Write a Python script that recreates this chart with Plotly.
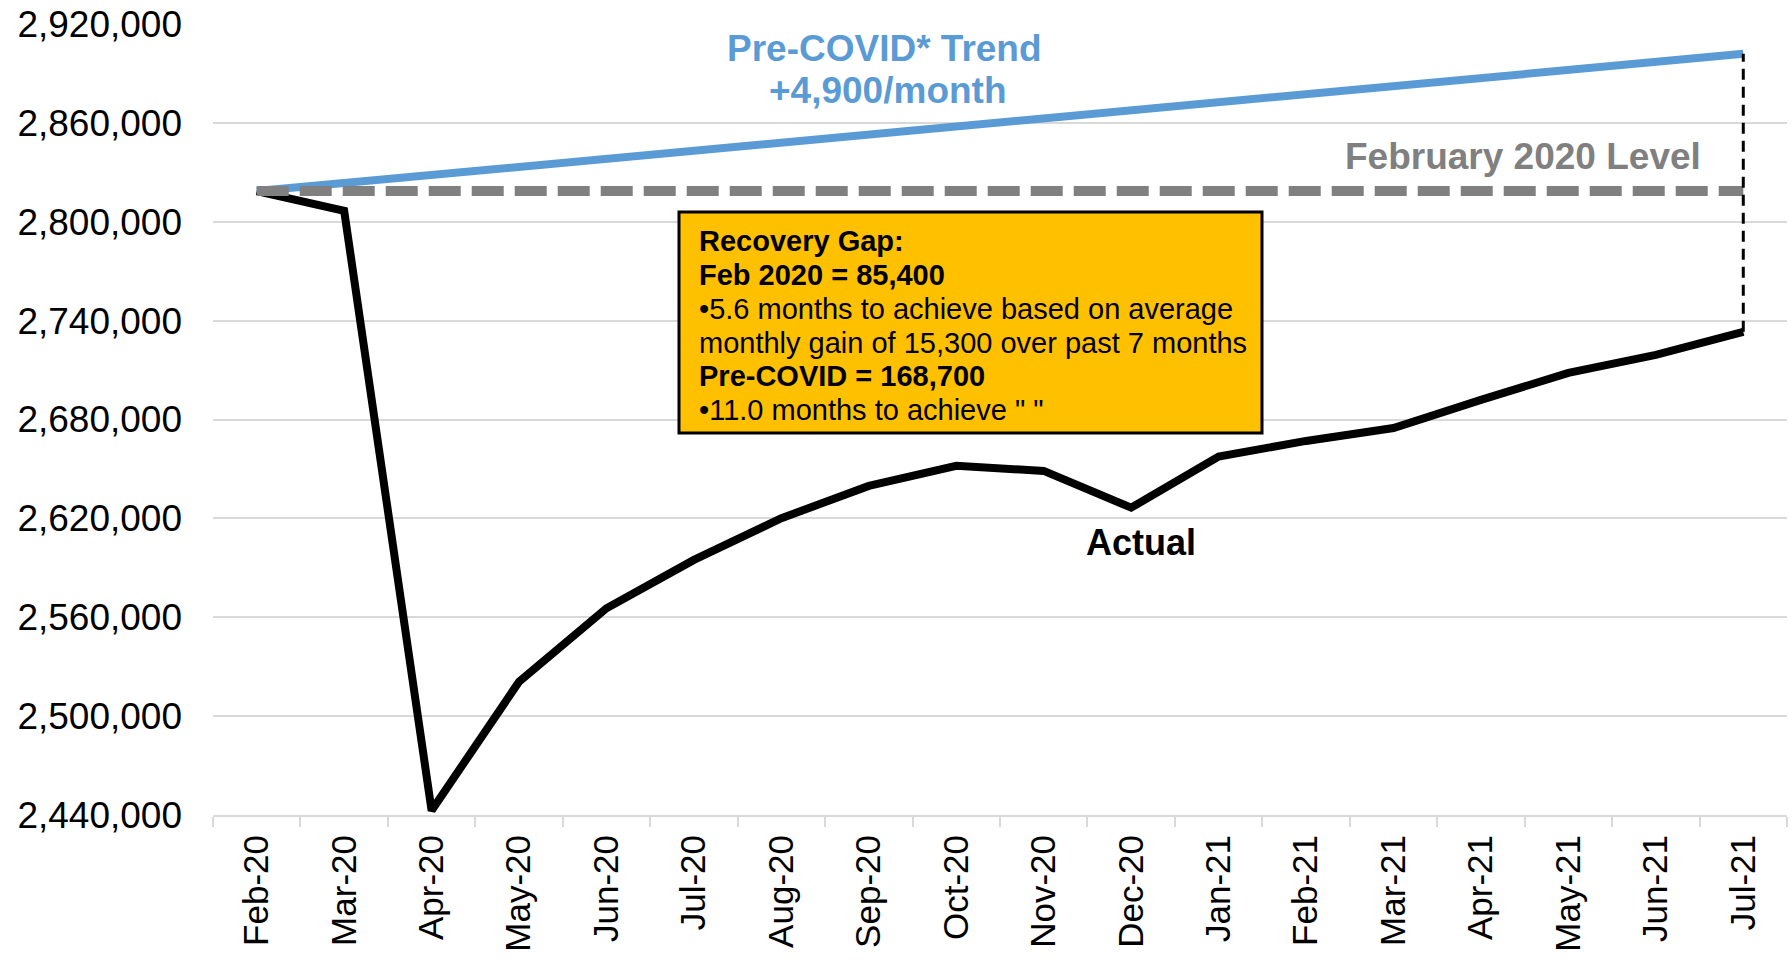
import plotly.graph_objects as go

months = ["Feb-20", "Mar-20", "Apr-20", "May-20", "Jun-20", "Jul-20", "Aug-20", "Sep-20",
          "Oct-20", "Nov-20", "Dec-20", "Jan-21", "Feb-21", "Mar-21", "Apr-21", "May-21",
          "Jun-21", "Jul-21"]
actual = [2818600, 2806600, 2442700, 2520900, 2565500, 2594800, 2620100, 2639700,
          2651900, 2648800, 2626500, 2657500, 2667000, 2674800, 2691900, 2708300,
          2719200, 2733200]
trend = [2818600, 2823500, 2828400, 2833300, 2838200, 2843100, 2848000, 2852900,
         2857800, 2862700, 2867600, 2872500, 2877400, 2882300, 2887200, 2892100,
         2897000, 2901900]
feb_level = [2818600] * 18
y_ticks = [2440000, 2500000, 2560000, 2620000, 2680000, 2740000, 2800000, 2860000, 2920000]

W, H = 1792, 960
L, R, T, B = 213, 5, 24, 145
PW, PH = W - L - R, H - T - B
FONT = "Liberation Sans, Arial, sans-serif"


def px(x):
    return (x - L) / PW


def py(y):
    return (T + PH - y) / PH


fig = go.Figure()
fig.add_trace(go.Scatter(x=months, y=trend, mode="lines",
                         line=dict(color="#5b9bd5", width=8), hoverinfo="skip"))
fig.add_trace(go.Scatter(x=months, y=actual, mode="lines",
                         line=dict(color="#000000", width=8), hoverinfo="skip"))
fig.add_trace(go.Scatter(x=months, y=feb_level, mode="lines",
                         line=dict(color="#808080", width=10, dash="32px,11px"), hoverinfo="skip"))
fig.add_trace(go.Scatter(x=[months[-1], months[-1]], y=[actual[-1], trend[-1]], mode="lines",
                         line=dict(color="#000000", width=3, dash="11px,7px"), hoverinfo="skip"))

annotations = [
    dict(text="<b>Pre-COVID* Trend</b>", x=px(884), y=py(48.5), font=dict(size=37, color="#5b9bd5")),
    dict(text="<b>+4,900/month</b>", x=px(888), y=py(90.5), font=dict(size=37, color="#5b9bd5")),
    dict(text="<b>February 2020 Level</b>", x=px(1523), y=py(156.7), font=dict(size=37, color="#808080")),
    dict(text="<b>Actual</b>", x=px(1140.5), y=py(542.5), font=dict(size=36, color="#000000")),
]
for a in annotations:
    a.update(xref="paper", yref="paper", xanchor="center", yanchor="middle", showarrow=False)
    a["font"]["family"] = FONT

box_lines = [
    ("<b>Recovery Gap:</b>", 241.1),
    ("<b>Feb 2020 = 85,400</b>", 275.4),
    ("•5.6 months to achieve based on average", 308.6),
    ("monthly gain of 15,300 over past 7 months", 342.9),
    ("<b>Pre-COVID = 168,700</b>", 376.0),
    ("•11.0 months to achieve \" \"", 410.3),
]
for txt, yy in box_lines:
    annotations.append(dict(text=txt, x=px(697), y=py(yy), xref="paper", yref="paper",
                            xanchor="left", yanchor="middle", showarrow=False,
                            font=dict(size=29, color="#000000", family=FONT)))

fig.update_layout(
    width=W, height=H,
    margin=dict(l=L, r=R, t=T, b=B),
    paper_bgcolor="white", plot_bgcolor="white",
    showlegend=False,
    font=dict(family=FONT, color="#000000"),
    annotations=annotations,
    shapes=[dict(type="rect", xref="paper", yref="paper",
                 x0=px(679), x1=px(1262), y0=py(433), y1=py(212),
                 fillcolor="#ffc000", line=dict(color="#000000", width=3), layer="above")],
)
fig.update_xaxes(
    type="category", range=[-0.5, 17.5], tickangle=-90, tickson="boundaries",
    ticks="outside", ticklen=10, tickwidth=2, tickcolor="#d9d9d9",
    showline=True, linecolor="#d9d9d9", linewidth=2, showgrid=False, automargin=False,
    tickfont=dict(size=35, color="#000000", family=FONT), ticklabelstandoff=4,
)
fig.update_yaxes(
    range=[2440000, 2920000], tickvals=y_ticks, tickformat=",d", automargin=False,
    showgrid=True, gridcolor="#d9d9d9", gridwidth=2, zeroline=False, showline=False,
    ticks="", tickfont=dict(size=37, color="#000000", family=FONT), ticklabelstandoff=30,
)

fig.write_html("out.html", config={"displayModeBar": False},
               post_script="document.body.style.margin='0';document.body.style.overflow='hidden';")
